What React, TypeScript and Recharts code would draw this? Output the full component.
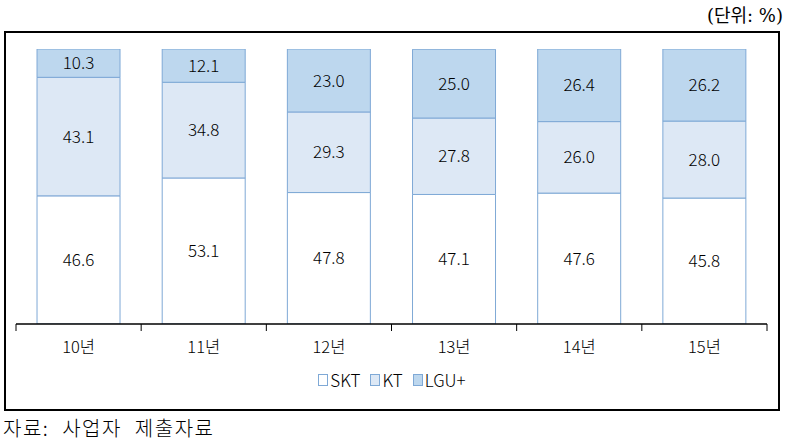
import React from 'react';
import { BarChart, Bar, XAxis, YAxis, LabelList } from 'recharts';

const categories = ['10년', '11년', '12년', '13년', '14년', '15년'];
const skt = [46.6, 53.1, 47.8, 47.1, 47.6, 45.8];
const kt = [43.1, 34.8, 29.3, 27.8, 26.0, 28.0];
const lgu = [10.3, 12.1, 23.0, 25.0, 26.4, 26.2];

const data = categories.map((c, i) => ({ name: c, SKT: skt[i], KT: kt[i], LGU: lgu[i] }));

const FONT = '"Noto Sans CJK KR", "Noto Sans", sans-serif';
const W = 796;
const H = 442;
const AXIS_H = 30;
const M = { top: 49, right: 29, bottom: 118 - AXIS_H, left: 16 };
const PLOT_W = W - M.left - M.right;

const series = [
  { key: 'SKT', name: 'SKT', fill: '#FFFFFF' },
  { key: 'KT', name: 'KT', fill: '#DDE8F5' },
  { key: 'LGU', name: 'LGU+', fill: '#BDD7EE' },
];
const STROKE = '#7FA9D6';

const Tick = (props: any) => {
  const { x, y, payload, index } = props;
  const half = PLOT_W / categories.length / 2;
  return (
    <g>
      <line x1={x - half} x2={x - half} y1={y - 8} y2={y - 1} stroke="#000" strokeWidth={1} />
      {index === categories.length - 1 && (
        <line x1={x + half} x2={x + half} y1={y - 8} y2={y - 1} stroke="#000" strokeWidth={1} />
      )}
      <text x={x} y={y + 21} textAnchor="middle" fontSize={16.5} fontFamily={FONT} fontWeight={300} fill="#000">
        {payload.value}
      </text>
    </g>
  );
};

export default function App() {
  return (
    <div style={{ position: 'absolute', left: 0, top: 0, width: W, height: H, background: '#fff' }}>
      <div style={{ position: 'absolute', right: 13, top: 1, fontFamily: '"DejaVu Serif", "Noto Sans CJK KR", serif', fontSize: 18, color: '#000' }}>
        (단위: %)
      </div>
      <div style={{ position: 'absolute', left: 4, top: 31, width: 772, height: 376, border: '2px solid #000' }} />
      <div style={{ position: 'absolute', left: 0, top: 0 }}>
        <BarChart width={W} height={H} data={data} margin={M} barCategoryGap="16.8%">
          <XAxis dataKey="name" height={AXIS_H} axisLine={{ stroke: '#000', strokeWidth: 1.5 }} tickLine={false} tick={<Tick />} interval={0} />
          <YAxis hide domain={[0, 100]} allowDataOverflow />
          {series.map((s) => (
            <Bar key={s.key} dataKey={s.key} name={s.name} stackId="a" fill={s.fill} stroke={STROKE} strokeWidth={1} isAnimationActive={false}>
              <LabelList dataKey={s.key} position="center" fill="#000" fontSize={17} fontWeight={300} fontFamily={FONT} formatter={(v: any) => Number(v).toFixed(1)} />
            </Bar>
          ))}
        </BarChart>
      </div>
      <div style={{ position: 'absolute', left: 0, top: 369, width: W - 12, display: 'flex', justifyContent: 'center', alignItems: 'center', gap: 10, fontFamily: FONT, fontWeight: 300, fontSize: 17, color: '#000', lineHeight: '22px' }}>
        {series.map((s) => (
          <div key={s.key} style={{ display: 'flex', alignItems: 'center' }}>
            <span style={{ display: 'inline-block', width: 8, height: 10, background: s.fill, border: `1px solid ${STROKE}`, marginRight: 2 }} />
            <span>{s.name}</span>
          </div>
        ))}
      </div>
      <div style={{ position: 'absolute', left: 3, top: 415, fontFamily: FONT, fontWeight: 300, fontSize: 20, color: '#000', letterSpacing: 1.5, wordSpacing: 7, lineHeight: '26px' }}>
        자료: 사업자 제출자료
      </div>
    </div>
  );
}
